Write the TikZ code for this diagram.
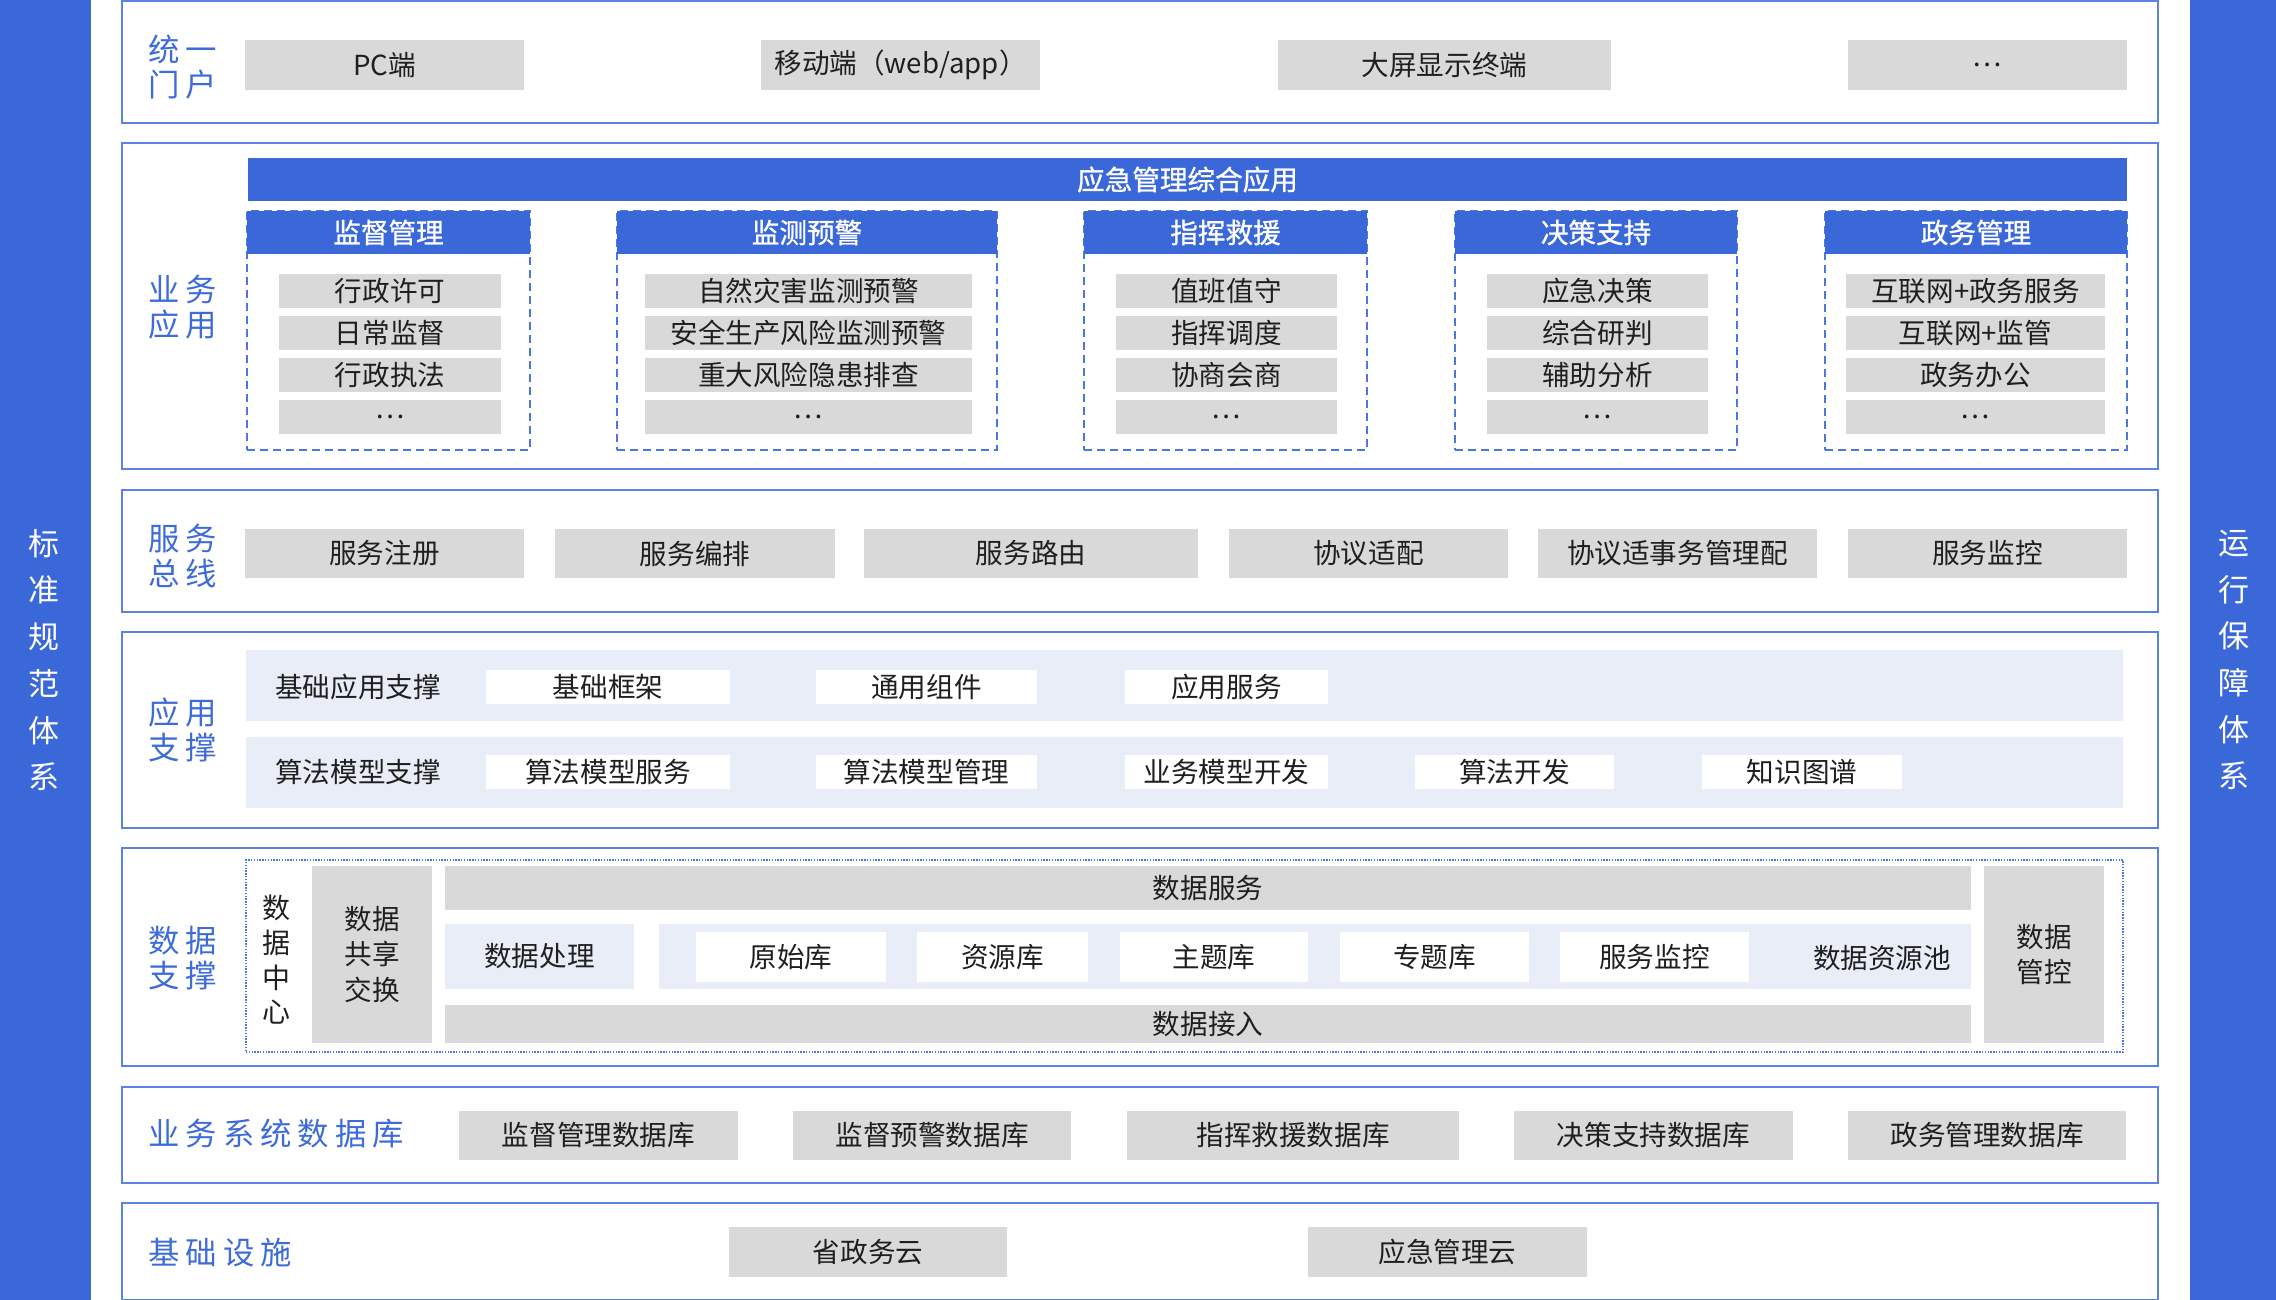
\documentclass[tikz,border=0pt]{standalone}
\usepackage{fontspec}
\setmainfont{Noto Sans CJK SC}
\newfontfamily\hdrfont[FakeBold=1]{Noto Sans CJK SC}
\definecolor{mainblue}{RGB}{59,104,217}
\definecolor{lineblue}{RGB}{90,130,226}
\definecolor{dashblue}{RGB}{74,120,224}
\definecolor{labelblue}{RGB}{61,107,218}
\definecolor{grayfill}{RGB}{217,217,217}
\definecolor{lightband}{RGB}{232,237,248}
\definecolor{textdark}{RGB}{31,31,31}
% \mybox[style]{name}{x1}{y1}{x2}{y2}{text}  (pixel coordinates)
\newcommand\mybox[7][]{%
  \pgfmathsetmacro\myboxw{(#5-#3)*0.5}%
  \pgfmathsetmacro\myboxh{(#6-#4)*0.5}%
  \node[minimum width=\myboxw pt, minimum height=\myboxh pt, inner sep=0pt, #1] (#2) at ({(#3+#5)/2},{(#4+#6)/2}) {#7};}
\newcommand\lgap{\hspace{3pt}}
\tikzset{
  itemfont/.style={font=\fontsize{13.8}{16}\selectfont, text=textdark},
  item/.style={fill=grayfill, itemfont},
  wbox/.style={fill=white, itemfont},
  band/.style={fill=lightband, itemfont},
  layer/.style={draw=lineblue, line width=1pt},
  hdr/.style={fill=mainblue, text=white, font=\hdrfont\fontsize{13.8}{16}\selectfont},
  colframe/.style={draw=dashblue, dash pattern=on 4pt off 2.5pt, line width=0.75pt},
  dcframe/.style={draw=dashblue, dash pattern=on 0.7pt off 0.7pt, line width=0.6pt},
  lbl/.style={text=labelblue, font=\fontsize{15.7}{17.5}\selectfont, align=left, anchor=west, inner sep=0pt},
  sidetxt/.style={text=white, font=\fontsize{15.5}{23.35}\selectfont, align=center, inner sep=0pt},
  vtxt/.style={itemfont, align=center, inner sep=0pt},
}
\begin{document}
\begin{tikzpicture}[x=0.5pt,y=-0.5pt]
\useasboundingbox (0,0) rectangle (2276,1300);
% side bars
\mybox[fill=mainblue]{lbar}{0}{0}{91}{1300}{}
\mybox[fill=mainblue]{rbar}{2190}{0}{2276}{1300}{}
\node[sidetxt] (lbartxt) at (44,660) {标\\准\\规\\范\\体\\系};
\node[sidetxt] (rbartxt) at (2234,660) {运\\行\\保\\障\\体\\系};

% layer frames
\mybox[layer]{L1}{122}{1}{2158}{123}{}
\mybox[layer]{L2}{122}{143.5}{2158}{469}{}
\mybox[layer]{L3}{122}{489.5}{2158}{612}{}
\mybox[layer]{L4}{122}{632}{2158}{828}{}
\mybox[layer]{L5}{122}{848}{2158}{1066}{}
\mybox[layer]{L6}{122}{1087}{2158}{1183}{}
\mybox[layer]{L7}{122}{1203}{2158}{1299.5}{}

% labels
\node[lbl] (lab1) at (148,67) {统\lgap 一\\门\lgap 户};
\node[lbl] (lab2) at (148,307) {业\lgap 务\\应\lgap 用};
\node[lbl] (lab3) at (148,556) {服\lgap 务\\总\lgap 线};
\node[lbl] (lab4) at (148,730) {应\lgap 用\\支\lgap 撑};
\node[lbl] (lab5) at (148,958) {数\lgap 据\\支\lgap 撑};
\node[lbl] (lab6) at (148,1134) {业\lgap 务\lgap 系\lgap 统\lgap 数\lgap 据\lgap 库};
\node[lbl] (lab7) at (148,1253) {基\lgap 础\lgap 设\lgap 施};

% layer 1
\mybox[item]{pc}{245}{40}{524}{90}{PC端}
\mybox[item]{mob}{761}{40}{1040}{90}{移动端（web/app）}
\mybox[item]{big}{1278}{40}{1611}{90}{大屏显示终端}
\mybox[item]{more}{1848}{40}{2127}{90}{…}

% layer 2
\mybox[hdr]{apphdr}{248}{158}{2127}{201}{应急管理综合应用}
\mybox[colframe]{f1}{247}{211}{530}{450}{}
\mybox[colframe]{f2}{617}{211}{997}{450}{}
\mybox[colframe]{f3}{1084}{211}{1367}{450}{}
\mybox[colframe]{f4}{1455}{211}{1737}{450}{}
\mybox[colframe]{f5}{1825}{211}{2127}{450}{}
\mybox[hdr]{h1}{247}{211}{530}{254}{监督管理}
\mybox[hdr]{h2}{617}{211}{997}{254}{监测预警}
\mybox[hdr]{h3}{1084}{211}{1367}{254}{指挥救援}
\mybox[hdr]{h4}{1455}{211}{1737}{254}{决策支持}
\mybox[hdr]{h5}{1825}{211}{2127}{254}{政务管理}

\mybox[item]{a11}{279}{274}{501}{308}{行政许可}
\mybox[item]{a12}{279}{316}{501}{350}{日常监督}
\mybox[item]{a13}{279}{358}{501}{392}{行政执法}
\mybox[item]{a14}{279}{400}{501}{434}{…}

\mybox[item]{a21}{645}{274}{972}{308}{自然灾害监测预警}
\mybox[item]{a22}{645}{316}{972}{350}{安全生产风险监测预警}
\mybox[item]{a23}{645}{358}{972}{392}{重大风险隐患排查}
\mybox[item]{a24}{645}{400}{972}{434}{…}

\mybox[item]{a31}{1116}{274}{1337}{308}{值班值守}
\mybox[item]{a32}{1116}{316}{1337}{350}{指挥调度}
\mybox[item]{a33}{1116}{358}{1337}{392}{协商会商}
\mybox[item]{a34}{1116}{400}{1337}{434}{…}

\mybox[item]{a41}{1487}{274}{1708}{308}{应急决策}
\mybox[item]{a42}{1487}{316}{1708}{350}{综合研判}
\mybox[item]{a43}{1487}{358}{1708}{392}{辅助分析}
\mybox[item]{a44}{1487}{400}{1708}{434}{…}

\mybox[item]{a51}{1846}{274}{2105}{308}{互联网+政务服务}
\mybox[item]{a52}{1846}{316}{2105}{350}{互联网+监管}
\mybox[item]{a53}{1846}{358}{2105}{392}{政务办公}
\mybox[item]{a54}{1846}{400}{2105}{434}{…}

% layer 3
\mybox[item]{s1}{245}{529}{524}{578}{服务注册}
\mybox[item]{s2}{555}{529}{835}{578}{服务编排}
\mybox[item]{s3}{864}{529}{1198}{578}{服务路由}
\mybox[item]{s4}{1229}{529}{1508}{578}{协议适配}
\mybox[item]{s5}{1538}{529}{1817}{578}{协议适事务管理配}
\mybox[item]{s6}{1848}{529}{2127}{578}{服务监控}

% layer 4
\mybox[band]{b1}{246}{650}{2123}{721}{}
\mybox[band]{b2}{246}{737}{2123}{808}{}
\node[itemfont] (b1t) at (358,687) {基础应用支撑};
\node[itemfont] (b2t) at (358,772) {算法模型支撑};
\mybox[wbox]{u1}{486}{670}{730}{704}{基础框架}
\mybox[wbox]{u2}{816}{670}{1037}{704}{通用组件}
\mybox[wbox]{u3}{1125}{670}{1328}{704}{应用服务}
\mybox[wbox]{m1}{486}{755}{730}{789}{算法模型服务}
\mybox[wbox]{m2}{816}{755}{1037}{789}{算法模型管理}
\mybox[wbox]{m3}{1125}{755}{1328}{789}{业务模型开发}
\mybox[wbox]{m4}{1415}{755}{1614}{789}{算法开发}
\mybox[wbox]{m5}{1702}{755}{1902}{789}{知识图谱}

% layer 5
\mybox[dcframe]{dc}{246}{860}{2123}{1052}{}
\node[vtxt, font=\fontsize{14}{17.35}\selectfont] (dct) at (276,960) {数\\据\\中\\心};
\mybox[item, align=center, font=\fontsize{13.8}{17.7}\selectfont]{share}{312}{866}{432}{1043}{数据\\共享\\交换}
\mybox[item]{dsvc}{445}{866}{1971}{910}{数据服务}
\mybox[band]{dproc}{445}{924}{634}{989}{数据处理}
\mybox[band]{pool}{659}{924}{1971}{989}{}
\node[itemfont] (poolt) at (1882,958) {数据资源池};
\mybox[wbox]{raw}{696}{932}{886}{982}{原始库}
\mybox[wbox]{res}{917}{932}{1088}{982}{资源库}
\mybox[wbox]{topic}{1120}{932}{1308}{982}{主题库}
\mybox[wbox]{spec}{1340}{932}{1529}{982}{专题库}
\mybox[wbox]{smon}{1560}{932}{1749}{982}{服务监控}
\mybox[item]{din}{445}{1005}{1971}{1043}{数据接入}
\mybox[item, align=center, font=\fontsize{13.8}{17.5}\selectfont]{dctl}{1984}{866}{2104}{1043}{数据\\管控}

% layer 6
\mybox[item]{db1}{459}{1111}{738}{1160}{监督管理数据库}
\mybox[item]{db2}{793}{1111}{1071}{1160}{监督预警数据库}
\mybox[item]{db3}{1127}{1111}{1459}{1160}{指挥救援数据库}
\mybox[item]{db4}{1514}{1111}{1793}{1160}{决策支持数据库}
\mybox[item]{db5}{1848}{1111}{2126}{1160}{政务管理数据库}

% layer 7
\mybox[item]{c1}{729}{1227}{1007}{1277}{省政务云}
\mybox[item]{c2}{1308}{1227}{1587}{1277}{应急管理云}
\end{tikzpicture}
\end{document}
